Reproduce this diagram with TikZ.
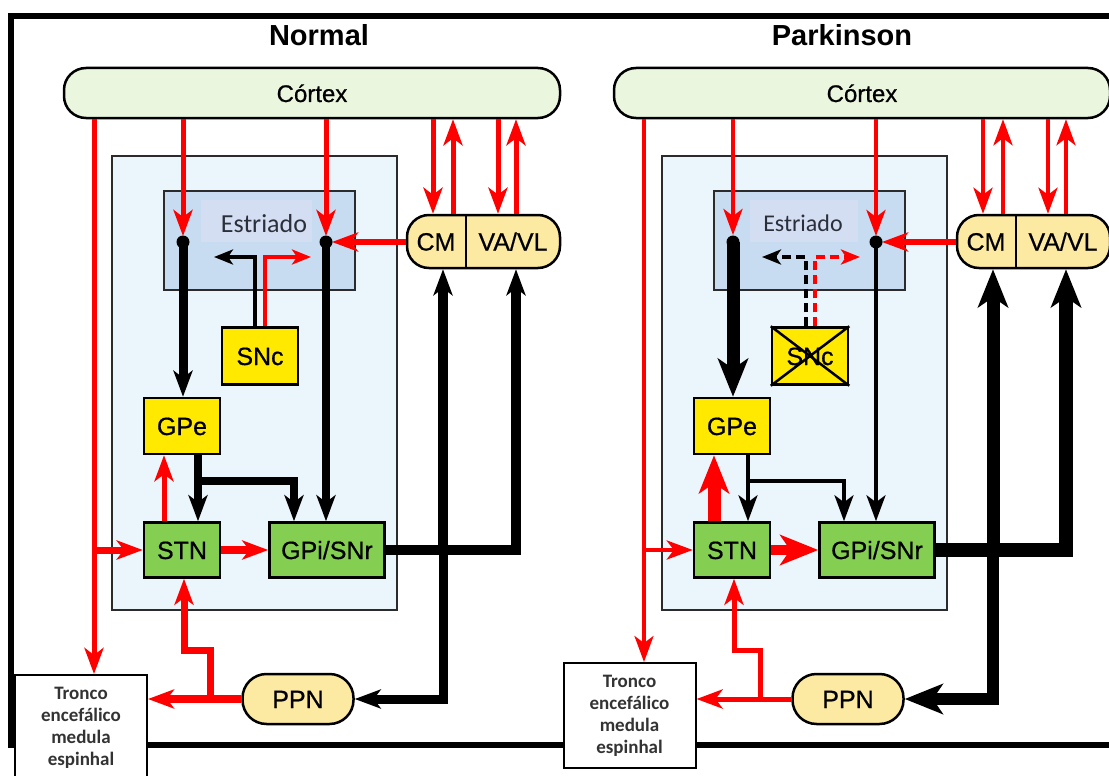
\documentclass[tikz,border=0pt]{standalone}
\usepackage{fontspec}
\setmainfont{Liberation Sans}
\newfontfamily\labelfont[FakeBold=0.6]{Liberation Sans}
\newfontfamily\calibri{Carlito}
\usetikzlibrary{arrows.meta}
\definecolor{ctxfill}{HTML}{EAF6DE}
\definecolor{bgfill}{HTML}{EAF6FB}
\definecolor{strfill}{HTML}{C7DCF0}
\definecolor{lblfill}{HTML}{D4DEF2}
\definecolor{thalfill}{HTML}{FCE9A2}
\definecolor{ylw}{HTML}{FFE900}
\definecolor{grn}{HTML}{84CF51}
\definecolor{rd}{HTML}{FF0000}
\definecolor{edge}{HTML}{2B2B2B}
\definecolor{strtxt}{HTML}{2A2F3A}
\begin{document}
\begin{tikzpicture}[x=1pt,y=-1pt,
  lbl/.style={font=\labelfont\fontsize{25pt}{28pt}\selectfont, text height=18pt, text depth=0pt, inner sep=0pt},
  nucleus/.style={lbl, draw=black, line width=2.5pt, minimum height=55pt},
  ylwbox/.style={nucleus, fill=ylw, minimum width=76pt},
  grnbox/.style={nucleus, fill=grn},
  roundbox/.style={lbl, draw=black, line width=2.5pt, fill=thalfill, rounded corners=22pt},
  ctxbox/.style={lbl, font=\labelfont\fontsize{24pt}{28pt}\selectfont, draw=black, line width=2.5pt,
    fill=ctxfill, rounded corners=22pt, minimum width=496pt, minimum height=50pt},
  region/.style={draw=edge, line width=2pt, inner sep=0pt, anchor=north west},
  strtext/.style={font=\calibri\fontsize{26pt}{30pt}\selectfont, text=strtxt, inner sep=0pt},
  tronco/.style={draw=black, line width=2pt, fill=white, minimum width=132pt, inner sep=0pt,
    align=center, font=\calibri\bfseries\fontsize{19pt}{22pt}\selectfont, text=black!80},
  title/.style={font=\bfseries\fontsize{29pt}{32pt}\selectfont, inner sep=0pt},
  exc/.style={draw=rd},
  inh/.style={draw=black},
  hd/.style={-{Stealth[length=26pt,width=19pt,inset=7pt]}},
  hdbig/.style={-{Stealth[length=38pt,width=30pt,inset=10pt]}},
  hdsm/.style={-{Stealth[length=19pt,width=15pt,inset=5pt]}},
  ]
\useasboundingbox (0,0) rectangle (1109,776);
\fill[white] (0,0) rectangle (1109,776);

% outer frame
\draw[line width=6pt] (1109,16) -- (11,16) -- (11,745) -- (1109,745);

% titles
\node[title] (tN) at (319,35) {Normal};
\node[title] (tP) at (842,35) {Parkinson};

% ---------------- normal circuit ----------------
\node[ctxbox] (ctxL) at (312,93) {Córtex};
\node[region, fill=bgfill, minimum width=285pt, minimum height=454pt] (bgL) at (111,155) {};
\node[region, fill=strfill, minimum width=191pt, minimum height=99pt] (strL) at (163,190) {};
\node[fill=lblfill, anchor=north west, minimum width=111pt, minimum height=42pt, inner sep=0pt] (lbgL) at (201,200) {};
\node[strtext] (slL) at (264,224) {Estriado};
\node[roundbox, minimum width=153pt, minimum height=53pt] (thL) at (483.5,241.5) {};
\draw[line width=2pt] (466,0 |- thL.north) -- (466,0 |- thL.south);
\node[lbl] (cmL) at (436,241.5) {CM};
\node[lbl] (vaL) at (513,241.5) {VA/VL};
\node[ylwbox, minimum height=57pt] (snL) at (260,356) {SNc};
\node[ylwbox, minimum height=56pt] (gpeL) at (182,426) {GPe};
\node[grnbox, minimum width=76pt] (stnL) at (182,550) {STN};
\node[grnbox, minimum width=115pt] (gpiL) at (327,550) {GPi/SNr};
\node[roundbox, minimum width=111pt, minimum height=50pt, rounded corners=24pt] (ppnL) at (298,699) {PPN};
\node[tronco, minimum height=106pt] (trL) at (81,728) {Tronco\\encefálico\\medula\\espinhal};
\coordinate (dL1) at (183,242);
\coordinate (dL2) at (326,242);
\coordinate (sbL) at (214,257);
\coordinate (srL) at (311,257);

% excitatory (red) pathways
\draw[exc, line width=5pt, hd] (94,0 |- ctxL.south) -- (94,0 |- trL.north);
\draw[exc, line width=7pt, hd] (94,0 |- stnL.west) -- (stnL.west);
\draw[exc, line width=5pt, hd] (dL1 |- ctxL.south) -- ([yshift=6pt]dL1);
\draw[exc, line width=5pt, hd] (dL2 |- ctxL.south) -- ([yshift=6pt]dL2);
\draw[exc, line width=5pt, hd] (433,0 |- ctxL.south) -- (433,0 |- thL.north);
\draw[exc, line width=5pt, hd] (453,0 |- thL.north) -- (453,0 |- ctxL.south);
\draw[exc, line width=5pt, hd] (498,0 |- ctxL.south) -- (498,0 |- thL.north);
\draw[exc, line width=5pt, hd] (516,0 |- thL.north) -- (516,0 |- ctxL.south);
\draw[exc, line width=6pt, hd] (thL.west |- dL2) -- ([xshift=6pt]dL2);
\draw[exc, line width=4pt, hdsm] (265,0 |- snL.north) -- (265,0 |- srL) -- (srL);
\draw[exc, line width=5pt, hd] (164,0 |- stnL.north) -- (164,0 |- gpeL.south);
\draw[exc, line width=8pt, hd] (stnL.east) -- (gpiL.west);
\draw[exc, line width=8pt, hd] (ppnL.west) -- (trL.east |- ppnL.west);
\draw[exc, line width=7pt, hd] (210,0 |- ppnL.west) -- (210,650) -- (184,650) -- (184,0 |- stnL.south);

% inhibitory (black) pathways
\draw[inh, line width=9pt, hd] (dL1) -- (dL1 |- gpeL.north);
\draw[inh, line width=8pt, hd] (dL2) -- (dL2 |- gpiL.north);
\fill (dL1) circle (6.5pt);
\fill (dL2) circle (6.5pt);
\draw[inh, line width=4pt, hdsm] (255,0 |- snL.north) -- (255,0 |- sbL) -- (sbL);
\draw[inh, line width=8pt, hd] (198,0 |- gpeL.south) -- (198,0 |- stnL.north);
\draw[inh, line width=8pt, hd] (198,481) -- (294,481) -- (294,0 |- gpiL.north);
\draw[inh, line width=10pt, hd] (gpiL.east) -- (516,0 |- gpiL.east) -- (516,0 |- thL.south);
\draw[inh, line width=10pt, hd] (443,0 |- gpiL.east) -- (443,0 |- thL.south);
\draw[inh, line width=9pt, hd] (443,0 |- gpiL.east) -- (443,0 |- ppnL.east) -- (ppnL.east);

% ---------------- parkinsonian circuit ----------------
\begin{scope}[xshift=550pt]
\node[ctxbox] (ctxR) at (312,93) {Córtex};
\node[region, fill=bgfill, minimum width=285pt, minimum height=454pt] (bgR) at (111,155) {};
\node[region, fill=strfill, minimum width=191pt, minimum height=99pt] (strR) at (163,190) {};
\node[fill=lblfill, anchor=north west, minimum width=108pt, minimum height=42pt, inner sep=0pt] (lbgR) at (200,200) {};
\node[strtext, font=\calibri\fontsize{24pt}{28pt}\selectfont] (slR) at (253,223) {Estriado};
\node[roundbox, minimum width=153pt, minimum height=53pt] (thR) at (483.5,241.5) {};
\draw[line width=2pt] (466,0 |- thR.north) -- (466,0 |- thR.south);
\node[lbl] (cmR) at (436,241.5) {CM};
\node[lbl] (vaR) at (513,241.5) {VA/VL};
\node[ylwbox, minimum height=57pt] (snR) at (260,356) {SNc};
\draw[line width=2.5pt] (snR.north west) -- (snR.south east) (snR.north east) -- (snR.south west);
\node[ylwbox, minimum height=56pt] (gpeR) at (182,426) {GPe};
\node[grnbox, minimum width=76pt] (stnR) at (182,550) {STN};
\node[grnbox, minimum width=115pt] (gpiR) at (327,550) {GPi/SNr};
\node[roundbox, minimum width=111pt, minimum height=50pt, rounded corners=24pt] (ppnR) at (298,699) {PPN};
\node[tronco, minimum height=105pt] (trR) at (79.5,715.5) {Tronco\\encefálico\\medula\\espinhal};
\coordinate (dR1) at (183,242);
\coordinate (dR2) at (326,242);
\coordinate (sbR) at (212,257);
\coordinate (srR) at (310,257);

% excitatory (red) pathways
\draw[exc, line width=3.5pt, hd] (94,0 |- ctxR.south) -- (94,0 |- trR.north);
\draw[exc, line width=4pt, hd] (94,0 |- stnR.west) -- (stnR.west);
\draw[exc, line width=4pt, hd] (dR1 |- ctxR.south) -- ([yshift=7pt]dR1);
\draw[exc, line width=4pt, hd] (dR2 |- ctxR.south) -- ([yshift=6pt]dR2);
\draw[exc, line width=4pt, hd] (433,0 |- ctxR.south) -- (433,0 |- thR.north);
\draw[exc, line width=4pt, hd] (453,0 |- thR.north) -- (453,0 |- ctxR.south);
\draw[exc, line width=4pt, hd] (498,0 |- ctxR.south) -- (498,0 |- thR.north);
\draw[exc, line width=4pt, hd] (516,0 |- thR.north) -- (516,0 |- ctxR.south);
\draw[exc, line width=6pt, hd] (thR.west |- dR2) -- ([xshift=6pt]dR2);
\draw[exc, line width=4pt, hdsm, dash pattern=on 9pt off 5pt] (265,0 |- snR.north) -- (265,0 |- srR) -- (srR);
\draw[exc, line width=13pt, hdbig] (164,0 |- stnR.north) -- (164,0 |- gpeR.south);
\draw[exc, line width=10pt, hdbig] (stnR.east) -- (gpiR.west);
\draw[exc, line width=5pt, hd] (ppnR.west) -- (trR.east |- ppnR.west);
\draw[exc, line width=5pt, hd] (210,0 |- ppnR.west) -- (210,650) -- (184,650) -- (184,0 |- stnR.south);

% inhibitory (black) pathways
\draw[inh, line width=13pt, hdbig] (dR1) -- (dR1 |- gpeR.north);
\draw[inh, line width=3.5pt, hd] (dR2) -- (dR2 |- gpiR.north);
\fill (dR1) circle (6.5pt);
\fill (dR2) circle (6.5pt);
\draw[inh, line width=4pt, hdsm, dash pattern=on 9pt off 5pt] (256,0 |- snR.north) -- (256,0 |- sbR) -- (sbR);
\draw[inh, line width=3.5pt, hd] (198,0 |- gpeR.south) -- (198,0 |- stnR.north);
\draw[inh, line width=3.5pt, hd] (198,481) -- (294,481) -- (294,0 |- gpiR.north);
\draw[inh, line width=14pt, hdbig] (gpiR.east) -- (516,0 |- gpiR.east) -- (516,0 |- thR.south);
\draw[inh, line width=13pt, hdbig] (443,0 |- gpiR.east) -- (443,0 |- thR.south);
\draw[inh, line width=12pt, hdbig] (443,0 |- gpiR.east) -- (443,0 |- ppnR.east) -- (ppnR.east);
\end{scope}
\end{tikzpicture}
\end{document}
